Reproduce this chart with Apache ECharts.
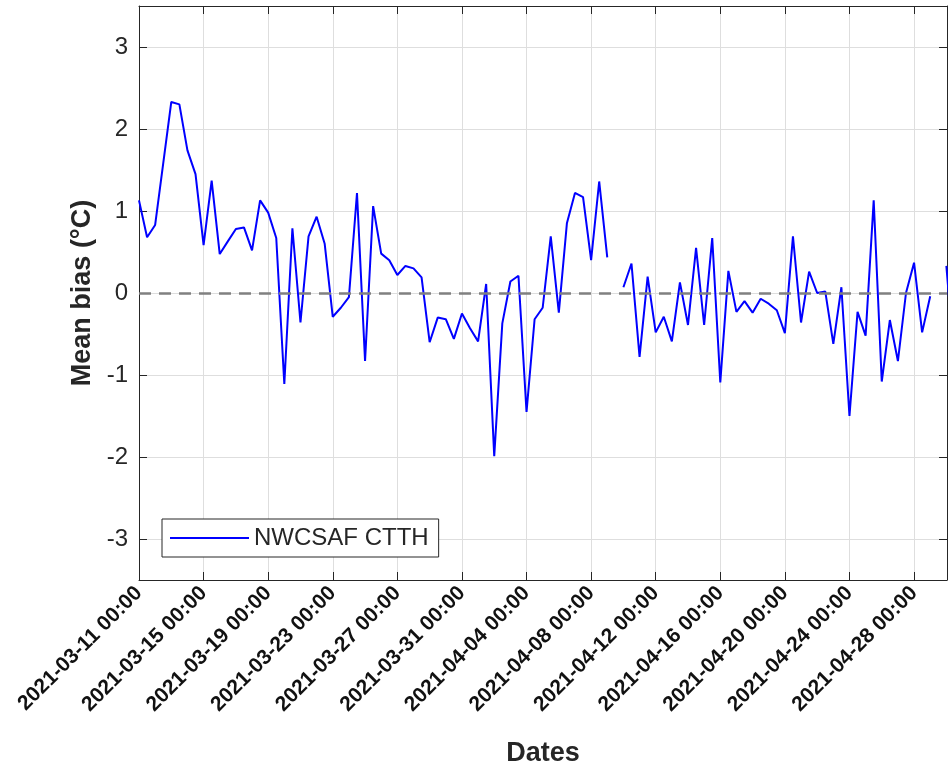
<!DOCTYPE html>
<html>
<head>
<meta charset="utf-8">
<title>Mean bias NWCSAF CTTH</title>
<script src="https://cdn.jsdelivr.net/npm/echarts@6/dist/echarts.min.js"></script>
<style>
    html, body {
        margin: 0;
        padding: 0;
        background: #ffffff;
    }
    #chart {
        width: 948px;
        height: 767px;
    }
</style>
</head>
<body>
<div id="chart"></div>
<script>
// samples every 12 hours starting 2021-03-11 00:00, null = no data
const startDate = Date.UTC(2021, 2, 11)
const stepDays = 0.5
const bias = [
    1.13, 0.68, 0.83, 1.58, 2.33, 2.30, 1.74, 1.45, 0.585, 1.37,
    0.475, 0.63, 0.78, 0.80, 0.52, 1.13, 0.98, 0.67, -1.11, 0.79,
    -0.36, 0.69, 0.93, 0.60, -0.29, -0.18, -0.05, 1.22, -0.83, 1.06,
    0.48, 0.40, 0.22, 0.33, 0.30, 0.19, -0.60, -0.30, -0.32, -0.56,
    -0.25, -0.43, -0.59, 0.11, -1.99, -0.37, 0.14, 0.21, -1.45, -0.32,
    -0.18, 0.69, -0.24, 0.85, 1.22, 1.17, 0.40, 1.36, 0.435, null,
    0.07, 0.36, -0.78, 0.20, -0.48, -0.29, -0.59, 0.13, -0.39, 0.55,
    -0.39, 0.67, -1.09, 0.27, -0.23, -0.10, -0.24, -0.07, -0.13, -0.21,
    -0.49, 0.69, -0.36, 0.26, 0.00, 0.02, -0.62, 0.07, -1.50, -0.23,
    -0.52, 1.13, -1.08, -0.33, -0.83, 0.00, 0.37, -0.48, -0.04, null,
    0.33, -0.85
]
const tickDays = 4
const xMaxDays = 50.04
const yMin = -3.5
const yMax = 3.5

const fontFamily = 'Liberation Sans, Arial, Helvetica, sans-serif'
const axisColor = '#262626'
const gridColor = '#dedede'

const pad = (n) => (n < 10 ? '0' + n : '' + n)
const dayLabel = (value) => {
    // only whole multiples of the tick step get a label
    if (Math.abs(value / tickDays - Math.round(value / tickDays)) > 1e-6) {
        return ''
    }
    let d = new Date(startDate + value * 86400000)
    return d.getUTCFullYear() + '-' + pad(d.getUTCMonth() + 1) + '-' + pad(d.getUTCDate()) + ' 00:00'
}
const yLabel = (value) => (Number.isInteger(value) ? '' + value : '')

const seriesData = bias.map((v, i) => [i * stepDays, v === null ? '-' : v])

const frameLine = { show: true, onZero: false, lineStyle: { color: axisColor, width: 1 } }
const frameTick = { show: true, inside: true, length: 8, lineStyle: { color: axisColor, width: 1 } }

let chart = echarts.init(document.getElementById('chart'), null, { renderer: 'canvas' })

let option = {
    backgroundColor: '#ffffff',
    animation: false,
    grid: {
        left: 139,
        right: 1,
        top: 6,
        bottom: 187,
        containLabel: false,
        outerBoundsMode: 'none'
    },
    legend: {
        left: 162,
        top: 519,
        orient: 'horizontal',
        backgroundColor: '#ffffff',
        borderColor: axisColor,
        borderWidth: 1,
        padding: [7, 10, 7, 8],
        itemWidth: 79,
        itemHeight: 2,
        icon: 'rect',
        textStyle: {
            fontFamily: fontFamily,
            fontSize: 24,
            lineHeight: 24,
            color: axisColor
        },
        data: ['NWCSAF CTTH']
    },
    xAxis: [
        {
            type: 'value',
            min: 0,
            max: xMaxDays,
            interval: tickDays,
            name: 'Dates',
            nameLocation: 'middle',
            nameGap: 160,
            nameTextStyle: {
                fontFamily: fontFamily,
                fontSize: 27,
                fontWeight: 'bold',
                color: axisColor
            },
            axisLine: frameLine,
            axisTick: frameTick,
            axisLabel: {
                rotate: 45,
                margin: 10,
                fontFamily: fontFamily,
                fontSize: 21,
                fontWeight: 'bold',
                color: '#111111',
                showMaxLabel: false,
                formatter: dayLabel
            },
            splitLine: { show: true, lineStyle: { color: gridColor, width: 1 } }
        },
        {
            type: 'value',
            position: 'top',
            min: 0,
            max: xMaxDays,
            interval: tickDays,
            axisLine: frameLine,
            axisTick: frameTick,
            axisLabel: { show: false },
            splitLine: { show: false }
        }
    ],
    yAxis: [
        {
            type: 'value',
            min: yMin,
            max: yMax,
            splitNumber: 7,
            name: 'Mean bias (°C)',
            nameLocation: 'middle',
            nameGap: 42,
            nameTextStyle: {
                fontFamily: fontFamily,
                fontSize: 27,
                fontWeight: 'bold',
                color: axisColor
            },
            axisLine: frameLine,
            axisTick: frameTick,
            axisLabel: {
                margin: 11,
                fontFamily: fontFamily,
                fontSize: 24,
                color: axisColor,
                showMinLabel: false,
                showMaxLabel: false,
                formatter: yLabel
            },
            splitLine: { show: true, lineStyle: { color: gridColor, width: 1 } }
        },
        {
            type: 'value',
            position: 'right',
            min: yMin,
            max: yMax,
            splitNumber: 7,
            axisLine: frameLine,
            axisTick: frameTick,
            axisLabel: { show: false },
            splitLine: { show: false }
        }
    ],
    series: [
        {
            name: 'NWCSAF CTTH',
            type: 'line',
            xAxisIndex: 0,
            yAxisIndex: 0,
            data: seriesData,
            showSymbol: false,
            symbol: 'none',
            connectNulls: false,
            clip: true,
            lineStyle: { color: '#0000ff', width: 2 },
            itemStyle: { color: '#0000ff' },
            markLine: {
                silent: true,
                symbol: ['none', 'none'],
                label: { show: false },
                lineStyle: { color: '#808080', width: 2.5, type: [12, 8] },
                data: [{ yAxis: 0 }]
            }
        }
    ]
}

chart.setOption(option)
</script>
</body>
</html>
